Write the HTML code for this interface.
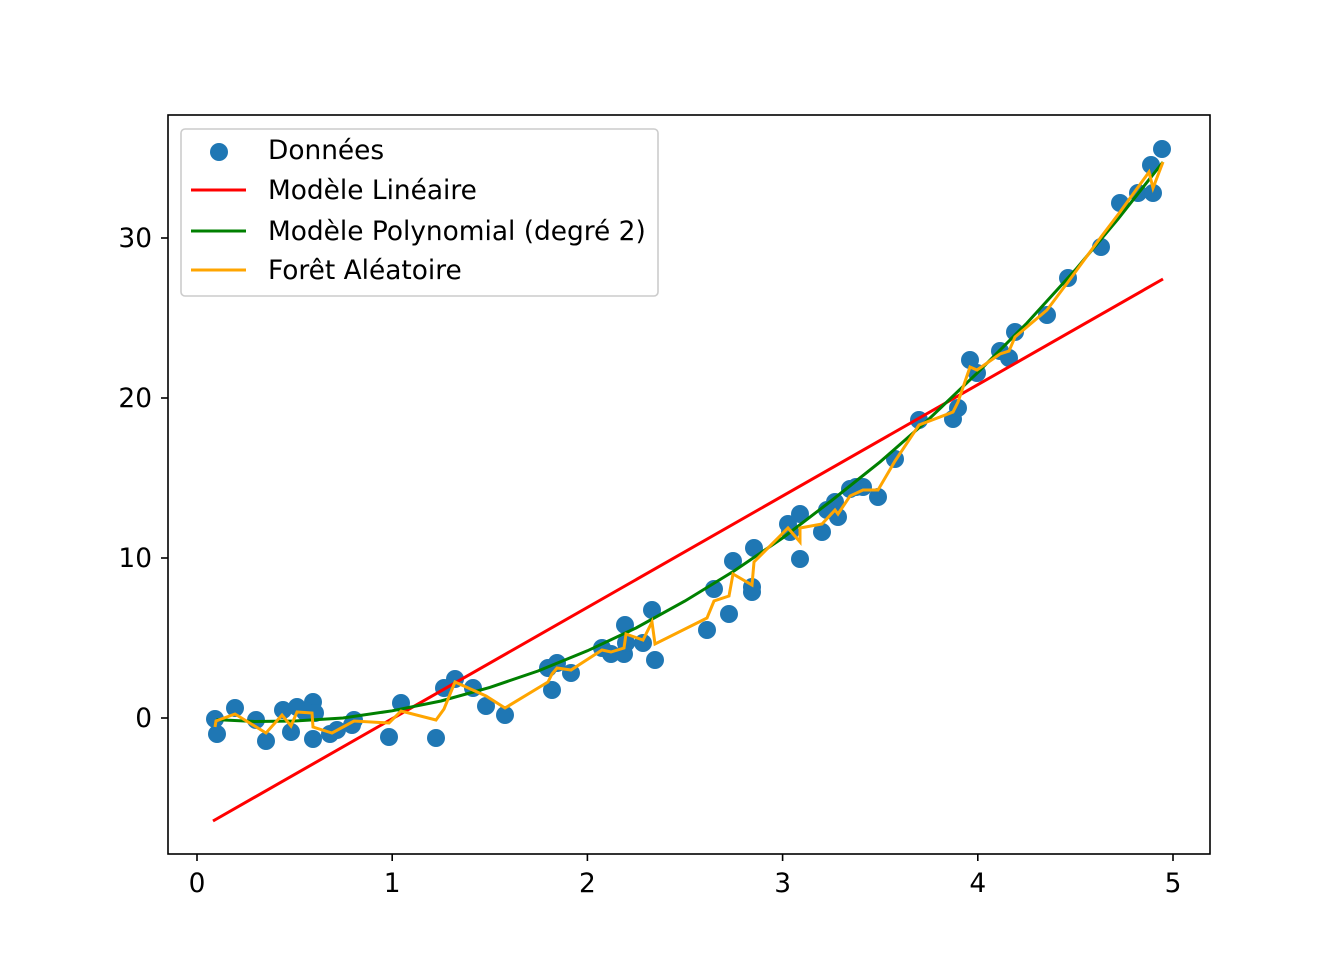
<!DOCTYPE html>
<html><head><meta charset="utf-8"><style>body{margin:0;background:#fff}svg{display:block}text{font-family:"DejaVu Sans","Liberation Sans",sans-serif;font-size:26.4px;fill:#000}</style></head><body>
<svg width="1344" height="960" viewBox="0 0 1344 960" xmlns="http://www.w3.org/2000/svg">
<rect width="1344" height="960" fill="#fff"/>
<g fill="#1f77b4">
<circle cx="215" cy="719" r="9"/><circle cx="217" cy="734" r="9"/><circle cx="235" cy="708" r="9"/><circle cx="256" cy="720" r="9"/><circle cx="266" cy="741" r="9"/><circle cx="283" cy="710" r="9"/><circle cx="291" cy="732" r="9"/><circle cx="297" cy="707" r="9"/><circle cx="305" cy="712" r="9"/><circle cx="313" cy="702" r="9"/><circle cx="313" cy="739" r="9"/><circle cx="315" cy="713" r="9"/><circle cx="330" cy="734" r="9"/><circle cx="337" cy="730" r="9"/><circle cx="354" cy="720" r="9"/><circle cx="352" cy="725" r="9"/><circle cx="389" cy="737" r="9"/><circle cx="401" cy="703" r="9"/><circle cx="436" cy="738" r="9"/><circle cx="444" cy="688" r="9"/><circle cx="455" cy="679" r="9"/><circle cx="473" cy="688" r="9"/><circle cx="486" cy="706" r="9"/><circle cx="505" cy="715" r="9"/><circle cx="548" cy="668" r="9"/><circle cx="552" cy="690" r="9"/><circle cx="557" cy="663" r="9"/><circle cx="571" cy="673" r="9"/><circle cx="602" cy="648" r="9"/><circle cx="611" cy="654" r="9"/><circle cx="624" cy="654" r="9"/><circle cx="625" cy="625" r="9"/><circle cx="626" cy="643" r="9"/><circle cx="643" cy="643" r="9"/><circle cx="652" cy="610" r="9"/><circle cx="655" cy="660" r="9"/><circle cx="707" cy="630" r="9"/><circle cx="714" cy="589" r="9"/><circle cx="729" cy="614" r="9"/><circle cx="733" cy="561" r="9"/><circle cx="752" cy="592" r="9"/><circle cx="752" cy="587" r="9"/><circle cx="754" cy="548" r="9"/><circle cx="788" cy="524" r="9"/><circle cx="790" cy="532" r="9"/><circle cx="800" cy="514" r="9"/><circle cx="800" cy="559" r="9"/><circle cx="822" cy="532" r="9"/><circle cx="827" cy="510" r="9"/><circle cx="835" cy="502" r="9"/><circle cx="838" cy="517" r="9"/><circle cx="850" cy="489" r="9"/><circle cx="856" cy="487" r="9"/><circle cx="863" cy="487" r="9"/><circle cx="878" cy="497" r="9"/><circle cx="895" cy="459" r="9"/><circle cx="919" cy="420" r="9"/><circle cx="953" cy="419" r="9"/><circle cx="958" cy="408" r="9"/><circle cx="970" cy="360" r="9"/><circle cx="977" cy="373" r="9"/><circle cx="1000" cy="351" r="9"/><circle cx="1009" cy="358" r="9"/><circle cx="1015" cy="332" r="9"/><circle cx="1047" cy="315" r="9"/><circle cx="1068" cy="278" r="9"/><circle cx="1101" cy="247" r="9"/><circle cx="1120" cy="203" r="9"/><circle cx="1138" cy="193" r="9"/><circle cx="1151" cy="165" r="9"/><circle cx="1153" cy="193" r="9"/><circle cx="1162" cy="149" r="9"/>
</g>
<line x1="213" y1="821" x2="1163" y2="279" stroke="#ff0000" stroke-width="3"/>
<polyline fill="none" stroke="#008000" stroke-width="3" points="216.5,719.6 255,721.5 294.6,721 343,718 392.2,710.8 441,701 489.8,687.4 538,671 587.4,650.8 636,628 685,601 734,571 782.6,538 831,501 880.2,461.8 929,419 977.8,372.4 1027,323 1075.4,269.8 1118,219 1163,162"/>
<polyline fill="none" stroke="#ffa500" stroke-width="3" points="215,727 216,721 235,714 266,733 282,715 291,726 297,712 312,713 313,727 332,733 354,721 389,723 401,711 436,720 444,709 455,682 486,696 505,708 548,682 552,674 557,668 571,670 602,650 611,652 624,648 626,634 643,640 652,622 655,644 707,618 714,601 729,596 733,574 752,585 754,562 788,528 800,542 800,528 822,524 835,510 838,514 850,496 863,490 878,490 895,461 919,425 953,412 958,402 970,367 977,370 1000,354 1009,351 1015,337 1047,310 1068,282 1101,237 1120,212 1149,172 1153,188 1163,162"/>
<rect x="168" y="115" width="1042" height="739" fill="none" stroke="#000" stroke-width="1.6"/>
<g stroke="#000" stroke-width="1.6">
<line x1="197" y1="854" x2="197" y2="861"/><line x1="392.2" y1="854" x2="392.2" y2="861"/><line x1="587.4" y1="854" x2="587.4" y2="861"/><line x1="782.6" y1="854" x2="782.6" y2="861"/><line x1="977.8" y1="854" x2="977.8" y2="861"/><line x1="1173" y1="854" x2="1173" y2="861"/>
<line x1="161" y1="718" x2="168" y2="718"/><line x1="161" y1="558" x2="168" y2="558"/><line x1="161" y1="398" x2="168" y2="398"/><line x1="161" y1="238" x2="168" y2="238"/>
</g>
<g text-anchor="middle">
<text x="197" y="892">0</text><text x="392.2" y="892">1</text><text x="587.4" y="892">2</text><text x="782.6" y="892">3</text><text x="977.8" y="892">4</text><text x="1173" y="892">5</text>
</g>
<g text-anchor="end">
<text x="152" y="727">0</text><text x="152" y="567">10</text><text x="152" y="407">20</text><text x="152" y="247">30</text>
</g>
<rect x="181" y="129" width="477" height="167" rx="4" fill="#fff" fill-opacity="0.8" stroke="#ccc" stroke-width="1.6"/>
<circle cx="219" cy="152" r="9" fill="#1f77b4"/>
<line x1="191" y1="190" x2="246" y2="190" stroke="#ff0000" stroke-width="3"/>
<line x1="191" y1="231" x2="246" y2="231" stroke="#008000" stroke-width="3"/>
<line x1="191" y1="270" x2="246" y2="270" stroke="#ffa500" stroke-width="3"/>
<text x="268" y="159">Données</text>
<text x="268" y="199">Modèle Linéaire</text>
<text x="268" y="240">Modèle Polynomial (degré 2)</text>
<text x="268" y="279">Forêt Aléatoire</text>
</svg>
</body></html>
